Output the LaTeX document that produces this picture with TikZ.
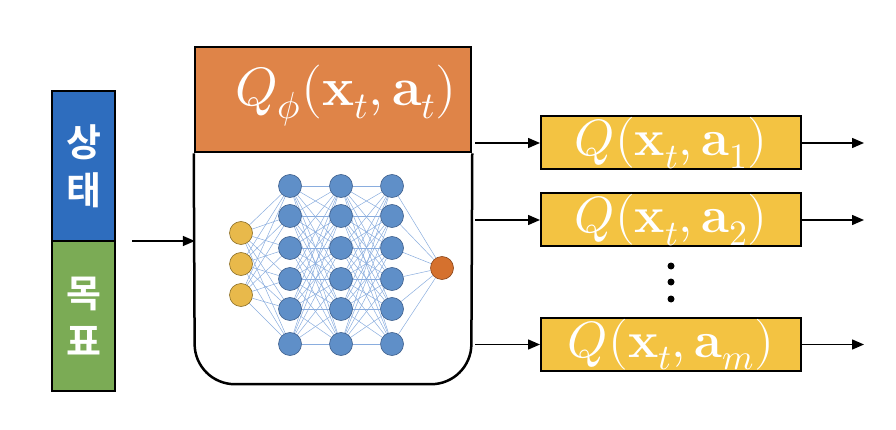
\documentclass[tikz,border=0pt]{standalone}
\usepackage{fontspec}
\usepackage{amsmath}
\usepackage{unicode-math}
\setmathfont{Latin Modern Math}
\newfontfamily\krfont{Noto Sans CJK KR}[BoldFont={Noto Sans CJK KR Bold}]
\usetikzlibrary{arrows.meta,backgrounds}

\definecolor{stateblue}{HTML}{2E6DBE}
\definecolor{goalgreen}{HTML}{7BAB55}
\definecolor{headorange}{HTML}{DF8448}
\definecolor{qyellow}{HTML}{F3C342}
\definecolor{neuronblue}{HTML}{5F8FC8}
\definecolor{neuronedge}{HTML}{3D5E8C}
\definecolor{inyellow}{HTML}{E8B94B}
\definecolor{inedge}{HTML}{8C6E26}
\definecolor{outorange}{HTML}{D5712E}
\definecolor{outedge}{HTML}{8A4418}
\definecolor{linkblue}{HTML}{8AADDE}

\newcommand{\qfont}{\fontsize{51}{51}\selectfont}
\newcommand{\headfont}{\fontsize{54}{54}\selectfont}

\begin{document}
\begin{tikzpicture}[x=1pt,y=-1pt,
  arr/.style={-{Triangle[length=12pt,width=10pt]},line width=1.5pt},
  statebox/.style={draw,line width=2.5pt,minimum width=63pt,minimum height=150pt,
    text=white,align=center,inner sep=0pt,font=\krfont\bfseries\fontsize{38}{48}\selectfont},
  qbox/.style={draw,line width=2pt,fill=qyellow,minimum width=260pt,minimum height=53pt,
    text=white,inner sep=0pt,font=\qfont},
  neuron/.style={circle,draw=neuronedge,line width=0.6pt,fill=neuronblue,minimum size=23pt,inner sep=0pt},
  netlink/.style={draw=linkblue,line width=0.5pt}]
\useasboundingbox (0,0) rectangle (896,430);

% state and goal
\node[statebox,fill=stateblue] (state) at (83.5,166) {상\\태};
\node[statebox,fill=goalgreen] (goal) at (83.5,316) {목\\표};

% Q network
\node[minimum width=276pt,minimum height=338pt] (net) at (333,215) {};
\node[draw,line width=2.5pt,fill=headorange,minimum width=276pt,minimum height=105pt,anchor=north] (head) at (net.north) {};
\draw[line width=2.5pt,rounded corners=40pt] (head.south west) -- (net.south west) -- (net.south east) -- (head.south east);
\node[text=white,font=\headfont] (qphi) at (346,96) {$Q_\phi(\mathbf{x}_t,\mathbf{a}_t)$};

\foreach \y [count=\i] in {233,264,295}
  \node[neuron,fill=inyellow,draw=inedge] (i\i) at (241,\y) {};
\foreach \x [count=\l] in {290,341,392}
  \foreach \y [count=\i] in {186,216,248,279,309,344}
    \node[neuron] (h\l-\i) at (\x,\y) {};
\node[neuron,fill=outorange,draw=outedge] (o) at (442,268) {};

\begin{scope}[on background layer]
\foreach \i in {1,...,3}
  \foreach \j in {1,...,6}
    \draw[netlink] (i\i) -- (h1-\j);
\foreach \l/\m in {1/2,2/3}
  \foreach \i in {1,...,6}
    \foreach \j in {1,...,6}
      \draw[netlink] (h\l-\i) -- (h\m-\j);
\foreach \j in {1,...,6}
  \draw[netlink] (h3-\j) -- (o);
\end{scope}

% outputs
\node[qbox] (q1) at (671,143) {$Q(\mathbf{x}_t,\mathbf{a}_1)$};
\node[qbox] (q2) at (671,220) {$Q(\mathbf{x}_t,\mathbf{a}_2)$};
\node[qbox] (qm) at (671,344.5) {$Q(\mathbf{x}_t,\mathbf{a}_m)$};
\foreach \y in {266,282,299}
  \fill (671,\y) circle (3.5pt);

% arrows
\coordinate (in) at (132,241);
\draw[arr] (in) -- (in -| net.west);
\foreach \q in {q1,q2,qm}{
  \draw[arr,shorten <=4pt] (\q.west -| net.east) -- (\q.west);
  \draw[arr] (\q.east) -- ++(62,0);
}
\end{tikzpicture}
\end{document}
